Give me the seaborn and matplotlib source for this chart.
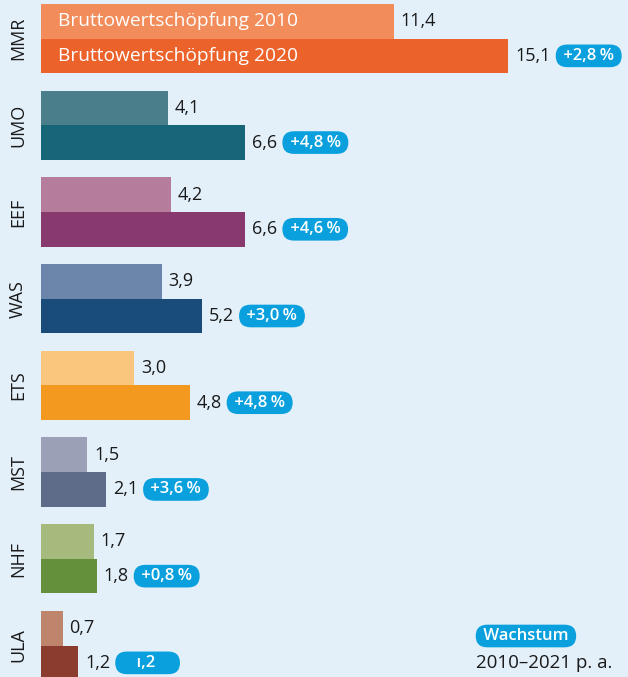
import matplotlib
matplotlib.use("Agg")
import matplotlib.pyplot as plt
import seaborn as sns
import pandas as pd

# data
regions = ["MMR", "UMO", "EEF", "WAS", "ETS", "MST", "NHF", "ULA"]
bws_2010 = [11.4, 4.1, 4.2, 3.9, 3.0, 1.5, 1.7, 0.7]
bws_2020 = [15.1, 6.6, 6.6, 5.2, 4.8, 2.1, 1.8, 1.2]
growth = ["+2,8\u2009%", "+4,8\u2009%", "+4,6\u2009%", "+3,0\u2009%",
          "+4,8\u2009%", "+3,6\u2009%", "+0,8\u2009%", "\u0131,2"]
colors_2010 = ["#F28C5A", "#4A7E8A", "#B57C9C", "#6B85AB", "#FAC57D", "#9CA0B6", "#A7BA7D", "#BF846C"]
colors_2020 = ["#EC622B", "#166677", "#883A6E", "#1A4C79", "#F3991F", "#5E6B89", "#648F3B", "#8C3C2F"]

bg = "#E3F0FA"
badge_blue = "#0AA0DE"
txt_col = "#1A1A1A"

sns.set_theme(style="white")
plt.rcParams["font.family"] = ["Open Sans", "DejaVu Sans"]

df = pd.DataFrame({
    "region": regions * 2,
    "value": bws_2010 + bws_2020,
    "year": ["2010"] * len(regions) + ["2020"] * len(regions),
})

fig = plt.figure(figsize=(6.28, 6.77), dpi=100)
fig.patch.set_facecolor(bg)
ax = fig.add_axes([41 / 628, 0, 587 / 628, 1])
ax.set_facecolor(bg)

sns.barplot(data=df, x="value", y="region", hue="year", orient="h",
            width=0.8, dodge=True, legend=False, ax=ax, linewidth=0)

for bar, c in zip(ax.containers[0], colors_2010):
    bar.set_facecolor(c)
for bar, c in zip(ax.containers[1], colors_2020):
    bar.set_facecolor(c)

badge_box = dict(boxstyle="round,pad=0.2,rounding_size=0.7", fc=badge_blue, ec="none")

# value labels and growth badges
for i, (v1, v2, g) in enumerate(zip(bws_2010, bws_2020, growth)):
    ax.annotate(f"{v1:.1f}".replace(".", ","), xy=(v1, i - 0.2), xytext=(5, 0),
                textcoords="offset points", ha="left", va="center",
                fontsize=13, color=txt_col)
    t2 = ax.annotate(f"{v2:.1f}".replace(".", ","), xy=(v2, i + 0.2), xytext=(5, 0),
                     textcoords="offset points", ha="left", va="center",
                     fontsize=13, color=txt_col)
    label = f" {g} " if i < len(regions) - 1 else f"    {g}     "
    ax.annotate(label, xy=(1, 0.5), xycoords=t2, xytext=(6, 0),
                textcoords="offset points", ha="left", va="center",
                fontsize=12, color="white", fontweight="semibold",
                bbox=badge_box)

# series names inside the first bars
ax.text(0.55, -0.2, "Bruttowertschöpfung 2010", ha="left", va="center",
        fontsize=13.8, color="white")
ax.text(0.55, 0.2, "Bruttowertschöpfung 2020", ha="left", va="center",
        fontsize=13.8, color="white")

ax.set_xlim(0, 587 / 30.95)
ax.set_ylim(7.363, -0.444)
ax.set_xlabel("")
ax.set_ylabel("")
ax.set_xticks([])
ax.tick_params(axis="y", length=0, pad=10)
for lab in ax.get_yticklabels():
    lab.set_rotation(90)
    lab.set_va("center")
    lab.set_fontsize(13)
    lab.set_color(txt_col)
sns.despine(ax=ax, left=True, bottom=True)

# legend at bottom right
fig.text(479 / 628, 1 - 636 / 677, " Wachstum ", ha="left", va="center",
         fontsize=12, color="white", fontweight="semibold", bbox=badge_box)
fig.text(476 / 628, 1 - 663 / 677, "2010\u20132021 p. a.", ha="left", va="center",
         fontsize=13.5, color=txt_col)

fig.savefig("out.png", dpi=100, facecolor=bg)
